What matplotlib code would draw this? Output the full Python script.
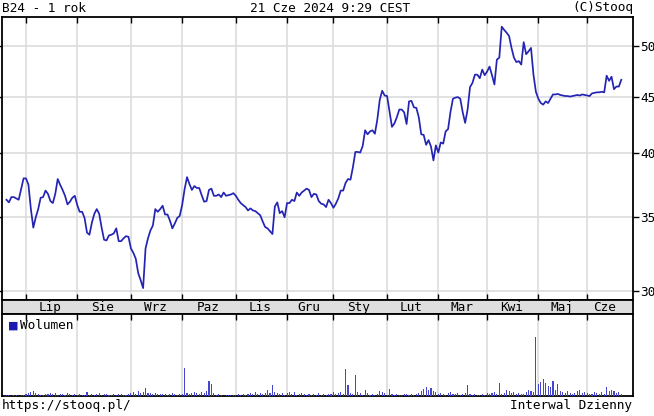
import matplotlib
matplotlib.use("Agg")
import matplotlib.pyplot as plt
import numpy as np
import pandas as pd

plt.rcParams['font.family'] = ['DejaVu Sans Mono']
FS = 9.2

# ---------------- data ----------------
holidays = ['2023-08-15', '2023-11-01', '2023-12-25', '2023-12-26', '2024-01-01',
            '2024-03-29', '2024-04-01', '2024-05-01', '2024-05-03', '2024-05-30']
month_names = ['Sty', 'Lut', 'Mar', 'Kwi', 'Maj', 'Cze', 'Lip', 'Sie', 'Wrz', 'Paz', 'Lis', 'Gru']

close = [
    36.3, 36.1, 36.5, 36.5, 36.4, 36.3, 37.1, 37.95, 37.95, 37.45,
    35.6, 34.25, 35.0, 35.6, 36.45, 36.5, 37.0, 36.75, 36.2, 36.05,
    36.75, 37.9, 37.45, 37.05, 36.6, 35.95, 36.15, 36.45, 36.6, 35.9,
    35.4, 35.4, 34.95, 33.9, 33.75, 34.6, 35.25, 35.6, 35.25, 34.25,
    33.4, 33.35, 33.7, 33.75, 33.85, 34.2, 33.3, 33.3, 33.5, 33.65,
    33.6, 32.8, 32.5, 32.1, 31.15, 30.7, 30.2, 32.8, 33.5, 34.05,
    34.4, 35.6, 35.4, 35.6, 35.85, 35.2, 35.2, 34.75, 34.2, 34.55,
    34.95, 35.1, 35.9, 37.1, 38.05, 37.5, 37.05, 37.35, 37.2, 37.2,
    36.65, 36.15, 36.2, 37.05, 37.15, 36.6, 36.6, 36.7, 36.5, 36.85,
    36.6, 36.65, 36.7, 36.8, 36.6, 36.3, 36.05, 35.9, 35.75, 35.5,
    35.65, 35.5, 35.45, 35.3, 35.15, 34.7, 34.3, 34.2, 34.0, 33.8,
    35.8, 36.1, 35.3, 35.45, 35.0, 36.05, 36.05, 36.3, 36.2, 36.85,
    36.6, 36.85, 37.0, 37.15, 37.05, 36.5, 36.75, 36.7, 36.2, 36.0,
    35.95, 35.75, 36.3, 36.05, 35.7, 36.0, 36.4, 37.0, 37.0, 37.6,
    37.9, 37.85, 38.85, 40.1, 40.1, 40.05, 40.6, 41.95, 41.6, 41.85,
    41.95, 41.65, 42.9, 44.7, 45.55, 45.1, 45.05, 43.6, 42.25, 42.55,
    43.1, 43.8, 43.8, 43.55, 42.5, 44.55, 44.6, 44.0, 43.95, 43.1,
    41.6, 41.55, 40.7, 41.1, 40.55, 39.4, 40.65, 40.05, 40.9, 40.8,
    41.85, 42.05, 43.6, 44.8, 44.9, 44.95, 44.8, 43.55, 42.6, 43.8,
    45.9, 46.3, 47.1, 47.1, 46.75, 47.6, 47.05, 47.4, 47.9, 47.05,
    46.15, 48.6, 48.8, 52.05, 51.7, 51.4, 51.05, 49.8, 48.8, 48.35,
    48.45, 48.1, 50.4, 49.15, 49.45, 49.8, 47.1, 45.45, 44.8, 44.4,
    44.25, 44.55, 44.4, 44.8, 45.2, 45.2, 45.25, 45.15, 45.1, 45.05,
    45.05, 45.0, 45.05, 45.1, 45.15, 45.1, 45.2, 45.15, 45.1, 45.05,
    45.3, 45.35, 45.4, 45.4, 45.45, 45.4, 47.0, 46.5, 46.9, 45.7,
    45.95, 45.95, 46.6,
]

volume = [
    1, 1, 0, 1, 1, 0, 1, 1,
    2, 3, 4, 5, 3, 2,
    1, 1, 2, 2, 3, 2, 3, 1, 2, 2, 1, 3, 2, 1, 2,
    1, 2, 1, 1, 4, 1, 2,
    1, 2, 3, 1, 2, 2, 1, 1, 2, 1, 2, 2, 1, 1, 2,
    3, 4, 2, 5, 3, 4, 8, 3, 3, 2, 3, 2, 2,
    2, 2, 1, 2, 3, 2, 1, 2, 2,
    27,
    3, 2, 3, 4, 3, 2, 4, 3, 5,
    15, 12,
    3, 1, 2, 1, 0, 1, 1, 1, 1, 1, 2,
    1, 2, 1, 2, 3, 2, 4, 2, 3,
    2, 3, 6, 3, 11, 4, 3,
    2, 3, 1, 3, 4, 2, 4, 1, 2, 3, 2,
    1, 2, 1, 2, 1, 3, 1, 2, 1, 2, 2,
    4, 2, 3, 4, 2, 26, 11, 3, 2, 20, 4, 3,
    1, 6, 3, 1, 2, 1, 2, 5, 4, 3, 1, 7, 2, 1, 2, 1, 1, 2, 2, 1, 2, 1, 2, 3,
    5, 7, 9, 6, 8, 5, 4,
    2, 3, 2, 1, 3, 4, 2, 2, 3, 1, 2, 3,
    11,
    2, 1, 2, 1, 1, 2, 1, 3, 2,
    3, 4, 2, 13, 2, 3, 6, 5, 3, 4, 2, 3, 2, 2, 4, 6, 5, 4,
    57, 12, 14, 17, 13, 10, 9, 15, 6, 12, 5, 4, 3, 5, 3, 2, 3, 5, 6, 3,
    4, 3, 2, 2, 4, 3, 2, 4, 2, 9, 5, 6, 5, 3, 4, 2,
]

# trading days
dates = pd.bdate_range('2023-06-21', '2024-06-21')
dates = dates[~dates.isin(pd.to_datetime(holidays))]
n = min(len(dates), len(close), len(volume))
dates = dates[:n]
close = np.array(close[:n])
volume = np.array(volume[:n])
x = np.arange(n)

# month boundaries
months = dates.month.values
starts = [i for i in range(1, n) if months[i] != months[i - 1]]
segments = starts + [n]
label_pos = []
label_txt = []
for a, b in zip(segments[:-1], segments[1:]):
    label_pos.append((a + b - 1) / 2.0)
    label_txt.append(month_names[months[a] - 1])

# ---------------- figure ----------------
W, H = 654, 416
fig = plt.figure(figsize=(W / 100, H / 100), dpi=100)

def rect(l, t, r, b):
    return [l / W, 1 - b / H, (r - l) / W, (b - t) / H]

xlim = (-1.84, 256.8)
grid_c = '#dcdcdc'
line_c = '#2424b4'

# main price panel
ax = fig.add_axes(rect(2, 17, 633, 300))
ax.plot(x, close, color=line_c, lw=1.25, zorder=3)
ax.set_yscale('log')
ax.set_ylim(29.46, 53.11)
ax.set_xlim(*xlim)
yt = [30, 35, 40, 45, 50]
ax.set_yticks(yt)
ax.set_yticklabels([str(v) for v in yt])
ax.yaxis.set_minor_locator(matplotlib.ticker.NullLocator())
ax.yaxis.tick_right()
ax.tick_params(axis='y', which='major', direction='out', length=4, width=1,
               labelsize=FS, pad=1, left=True, right=True)
ax.set_xticks(starts)
ax.set_xticklabels([])
ax.tick_params(axis='x', direction='in', length=4, width=1, top=True, bottom=True)
for v in yt:
    ax.axhline(v, color=grid_c, lw=1.2, zorder=1)
for s in starts:
    ax.axvline(s, color=grid_c, lw=1.2, zorder=1)
for sp in ax.spines.values():
    sp.set_linewidth(1.3)

# month strip
axs = fig.add_axes(rect(2, 300, 633, 314))
axs.set_facecolor('#dedede')
axs.set_xlim(*xlim)
axs.set_ylim(0, 1)
axs.set_xticks([])
axs.set_yticks([])
for p, t in zip(label_pos, label_txt):
    axs.text(p, 0.45, t, ha='center', va='center', fontsize=FS)
for sp in axs.spines.values():
    sp.set_linewidth(1.3)

# volume panel
axv = fig.add_axes(rect(2, 314, 633, 396))
axv.bar(x, volume, width=0.45, color='#4646cc', zorder=3)
axv.set_xlim(*xlim)
axv.set_ylim(0, volume.max() * 1.40)
axv.set_yticks([])
axv.set_xticks(starts)
axv.set_xticklabels([])
axv.tick_params(axis='x', direction='in', length=4, width=1, top=True, bottom=False)
for s in starts:
    axv.axvline(s, color=grid_c, lw=1.2, zorder=1)
for sp in axv.spines.values():
    sp.set_linewidth(1.3)
axv.text(0.0095, 0.86, '\u25A0', transform=axv.transAxes, color='#1a1ab0',
         fontsize=8, ha='left', va='center', family='DejaVu Sans')
axv.text(0.028, 0.86, 'Wolumen', transform=axv.transAxes, fontsize=FS,
         ha='left', va='center')

# header / footer texts
fig.text(2 / W, 1 - 8 / H, 'B24 - 1 rok', ha='left', va='center', fontsize=FS)
fig.text(330 / W, 1 - 8 / H, '21 Cze 2024 9:29 CEST', ha='center', va='center', fontsize=FS)
fig.text(633 / W, 1 - 8 / H, '(C)Stooq', ha='right', va='center', fontsize=FS)
fig.text(2 / W, 1 - 406 / H, 'https://stooq.pl/', ha='left', va='center', fontsize=FS)
fig.text(632 / W, 1 - 406 / H, 'Interwal Dzienny', ha='right', va='center', fontsize=FS)

fig.savefig('out.png', dpi=100, facecolor='white')
